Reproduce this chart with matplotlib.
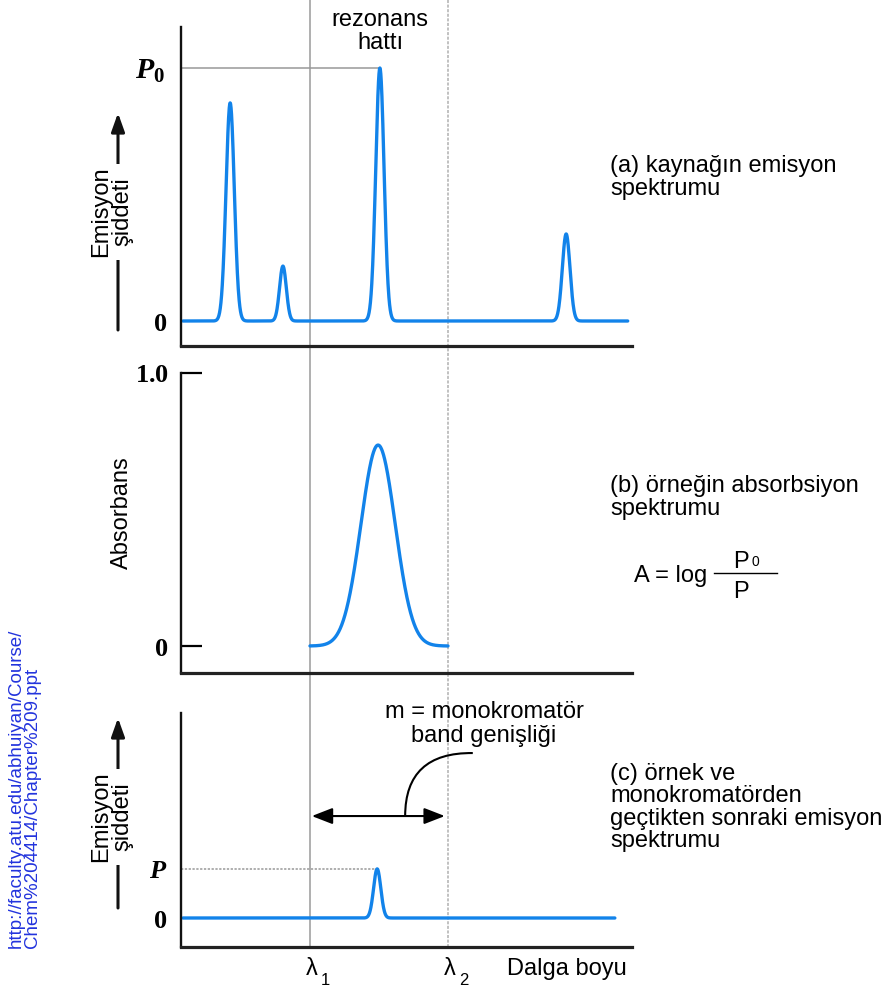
import numpy as np
import matplotlib
matplotlib.use("Agg")
import matplotlib.pyplot as plt
import matplotlib.transforms as mtransforms
from matplotlib.lines import Line2D
from matplotlib.patches import FancyArrowPatch, PathPatch
from matplotlib.path import Path

W, H = 888, 992

plt.rcParams["font.family"] = ["Liberation Sans", "DejaVu Sans"]
plt.rcParams["mathtext.fontset"] = "custom"
plt.rcParams["mathtext.it"] = "Liberation Serif:italic:bold"
plt.rcParams["mathtext.rm"] = "Liberation Serif:bold"
plt.rcParams["mathtext.bf"] = "Liberation Serif:bold"

# wavelength axis (arbitrary units) and slit edges
wl = np.linspace(0, 100, 2001)
lam1, lam2 = 28.6, 59.2

# (a) source emission lines: centre, height (P/P0), width
src_center = [10.9, 22.6, 44.1, 85.4]
src_height = [0.862, 0.217, 1.0, 0.344]
src_sigma = [0.92, 0.75, 0.92, 0.85]
src_end = 99.1

# (b) sample absorption band
abs_center = 43.7
abs_height = 0.736
abs_sigma = 3.8

# (c) line left after sample + monochromator
out_center = 43.5
out_height = 0.194
out_sigma = 0.8
out_end = 96.2

BLUE = "#1283ea"
SANS = 17


def line_shape(x, centers, heights, sigmas):
    y = np.zeros_like(x)
    for c, h, s in zip(centers, heights, sigmas):
        y += h * np.exp(-0.5 * ((x - c) / s) ** 2)
    return y


def fx(x):
    return x / W


def fy(y):
    return 1 - y / H


def panel(l, t, r, b):
    ax = fig.add_axes([l / W, 1 - b / H, (r - l) / W, (b - t) / H])
    ax.set_facecolor("none")
    ax.set_xlim(0, 100)
    ax.set_xticks([])
    for s in ("top", "right"):
        ax.spines[s].set_visible(False)
    ax.spines["left"].set_linewidth(1.7)
    ax.spines["left"].set_color("#111111")
    ax.spines["bottom"].set_linewidth(2.3)
    ax.spines["bottom"].set_color("#222222")
    return ax


def lines_at(x, y0, step, rows, **kw):
    for i, row in enumerate(rows):
        fig.text(fx(x), fy(y0 + i * step), row, fontsize=SANS,
                 ha="left", va="baseline", **kw)


fig = plt.figure(figsize=(W / 100, H / 100), dpi=100)

ax_a = panel(181, 27, 632, 346)
ax_a.set_ylim(-25 / 253, 294 / 253)
ax_b = panel(181, 373, 632, 673)
ax_b.set_ylim(-27 / 273, 1.0)
ax_c = panel(181, 713, 632, 947)
ax_c.set_ylim(-29 / 253, 205 / 253)

# (a) emission spectrum of the source
m = (wl > 0.4) & (wl <= src_end)
ax_a.plot(wl[m], line_shape(wl[m], src_center, src_height, src_sigma),
          color=BLUE, lw=2.4, solid_capstyle="round", clip_on=False)
p0 = max(src_height)
ax_a.plot([0, src_center[int(np.argmax(src_height))]], [p0, p0],
          color="#999999", lw=1.1, zorder=1)
ax_a.set_yticks([0, p0])
ax_a.set_yticklabels(["$0$", "$P_0$"], fontsize=19)
ax_a.get_yticklabels()[1].set_fontsize(21.5)
ax_a.tick_params(axis="y", length=0, pad=10)
ax_a.get_yticklabels()[1].set_x(-0.004)

# (b) absorption band of the sample, seen between the slit edges
m = (wl >= lam1) & (wl <= lam2)
ax_b.plot(wl[m], line_shape(wl[m], [abs_center], [abs_height], [abs_sigma]),
          color=BLUE, lw=2.4, solid_capstyle="round")
ax_b.set_yticks([0, 1.0])
ax_b.set_yticklabels(["$0$", "$1.0$"], fontsize=19)
ax_b.tick_params(axis="y", direction="in", length=15, width=1.6, pad=9)

# (c) what passes the sample and the monochromator
m = (wl > 0.4) & (wl <= out_end)
ax_c.plot(wl[m], line_shape(wl[m], [out_center], [out_height], [out_sigma]),
          color=BLUE, lw=2.4, solid_capstyle="round")
ax_c.plot([0, out_center], [out_height, out_height],
          color="#999999", lw=1.1, ls=(0, (1.5, 1)), zorder=1)
ax_c.set_yticks([0, out_height])
ax_c.set_yticklabels(["$0$", "$P$"], fontsize=19)
ax_c.tick_params(axis="y", length=0, pad=10)

# slit edges running through all three panels
trans = mtransforms.blended_transform_factory(ax_a.transData, fig.transFigure)
fig.add_artist(Line2D([lam1, lam1], [1, fy(947)], transform=trans,
                      color="#9a9a9a", lw=1.1, zorder=-1))
fig.add_artist(Line2D([lam2, lam2], [1, fy(947)], transform=trans,
                      color="#b0b0b0", lw=1.1, ls=(0, (2, 1)), zorder=-1))
for lam, sub in ((lam1, "1"), (lam2, "2")):
    ax_a.annotate("λ", xy=(lam, fy(975)), xycoords=trans, xytext=(-3, 0),
                  textcoords="offset points", fontsize=SANS,
                  ha="left", va="baseline", annotation_clip=False)
    ax_a.annotate(sub, xy=(lam, fy(985)), xycoords=trans, xytext=(8, 0),
                  textcoords="offset points", fontsize=12,
                  ha="left", va="baseline", annotation_clip=False)
fig.text(fx(507), fy(975), "Dalga boyu", fontsize=SANS, va="baseline")

fig.text(fx(380), fy(26), "rezonans", fontsize=SANS, ha="center", va="baseline")
fig.text(fx(380), fy(49), "hattı", fontsize=SANS, ha="center", va="baseline")

# intensity axis arrows with their labels
for y_top, y_bot, y_mid in ((113, 330, 212), (718, 908, 817)):
    fig.add_artist(FancyArrowPatch((fx(118), fy(y_bot)), (fx(118), fy(y_top)),
                                   transform=fig.transFigure,
                                   arrowstyle="-|>,head_length=0.7,head_width=0.25",
                                   mutation_scale=16, lw=2.2, color="#111111",
                                   shrinkA=0, shrinkB=0, zorder=2))
    fig.text(fx(112), fy(y_mid), "Emisyon\nşiddeti", rotation=90,
             fontsize=SANS, ha="center", va="center", multialignment="center",
             linespacing=0.95, zorder=3,
             bbox=dict(fc="white", ec="none", pad=2))
fig.text(fx(122), fy(513), "Absorbans", rotation=90, fontsize=SANS,
         ha="center", va="center")

# monochromator band width arrow
y_arr = 0.403
ax_c.annotate("", xy=(lam1 + 0.4, y_arr), xytext=(lam2 - 0.7, y_arr),
              arrowprops=dict(arrowstyle="<|-|>,head_length=0.9,head_width=0.35",
                              mutation_scale=14, lw=1.5, color="black",
                              shrinkA=0, shrinkB=0))
curve = Path([(49.7, y_arr), (49.7, 0.655), (64.7, 0.652)],
             [Path.MOVETO, Path.CURVE3, Path.CURVE3])
ax_c.add_patch(PathPatch(curve, fc="none", ec="black", lw=1.5, clip_on=False))
fig.text(fx(484), fy(718), "m = monokromatör", fontsize=SANS,
         ha="center", va="baseline")
fig.text(fx(484), fy(742), "band genişliği", fontsize=SANS,
         ha="center", va="baseline")

# panel descriptions
lines_at(610, 172, 23, ["(a) kaynağın emisyon", "spektrumu"])
lines_at(610, 492, 22.5, ["(b) örneğin absorbsiyon", "spektrumu"])
lines_at(610, 780, 22.5, ["(c) örnek ve", "monokromatörden",
                          "geçtikten sonraki emisyon", "spektrumu"])

# A = log P0 / P
fig.text(fx(634), fy(582), "A = log", fontsize=SANS, va="baseline")
fig.text(fx(733), fy(568), "P", fontsize=SANS, va="baseline")
fig.text(fx(751), fy(566), "0", fontsize=10, va="baseline")
fig.add_artist(Line2D([fx(714), fx(777)], [fy(573), fy(573)],
                      transform=fig.transFigure, color="black", lw=1.0))
fig.text(fx(733), fy(598), "P", fontsize=SANS, va="baseline")

# source reference
fig.text(fx(24), fy(948), "http://faculty.atu.edu/abhuiyan/Course/\n"
         "Chem%204414/Chapter%209.ppt", rotation=90, fontsize=13.5,
         color="#2233dd", ha="center", va="bottom", multialignment="left",
         linespacing=0.95)

fig.savefig("out.png", dpi=100)
